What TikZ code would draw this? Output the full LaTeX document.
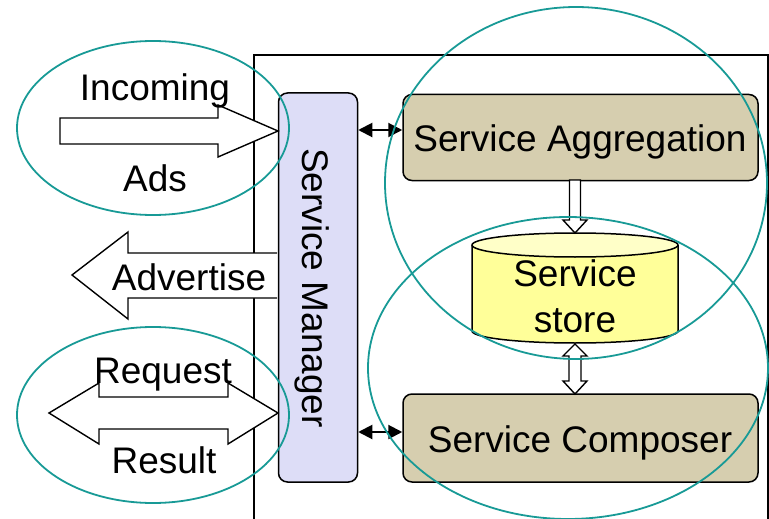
\documentclass[tikz,border=0pt]{standalone}
\usepackage{fontspec}
\setmainfont{Liberation Sans}
\usetikzlibrary{arrows.meta,calc}
\definecolor{mgrfill}{RGB}{221,221,247}
\definecolor{boxfill}{RGB}{214,206,175}
\definecolor{storebody}{RGB}{255,255,153}
\definecolor{storetop}{RGB}{255,255,200}
\definecolor{ring}{RGB}{24,154,150}
\tikzset{
  label/.style={font=\fontsize{37}{40}\selectfont, inner sep=0pt,
    text height=26.5pt, text depth=0pt},
  rbox/.style={draw, line width=1.5pt, rounded corners=9pt, fill=boxfill},
  blockarrow/.style={draw, line width=1.4pt, fill=white, line join=miter},
  group/.style={draw=ring, line width=1.8pt},
  link/.style={line width=2pt, {Triangle[length=14pt,width=14pt]}-{Triangle[length=14pt,width=14pt]}},
}
\begin{document}
\begin{tikzpicture}[x=1pt,y=-1pt]
\useasboundingbox (0,0) rectangle (769,519);

% system frame
\draw[line width=1.5pt] (254,519) -- (254,55) -- (768,55) -- (768,519);

% service manager
\node[draw, line width=1.5pt, rounded corners=9pt, fill=mgrfill,
  minimum width=79pt, minimum height=389pt, inner sep=0pt]
  (mgr) at (318,287.5) {};
\node[label, rotate=-90] (mgrtext) at (316,288) {Service Manager};

% aggregation and composer
\node[rbox, minimum width=355pt, minimum height=86pt] (agg) at (580.5,137.5) {};
\node[label] (aggtext) at (580,138.5) {Service Aggregation};
\node[rbox, minimum width=355pt, minimum height=88pt] (comp) at (580.5,438) {};
\node[label] (comptext) at (580,439.5) {Service Composer};

% service store cylinder
\coordinate (storetopc) at (575,245);
\fill[storebody] (472,245) -- (472,331) arc[start angle=180,end angle=360,x radius=103pt,y radius=12pt] -- (678,245) -- cycle;
\draw[line width=1.5pt] (472,245) -- (472,331) arc[start angle=180,end angle=360,x radius=103pt,y radius=12pt] -- (678,245);
\draw[line width=1.5pt, fill=storetop] (storetopc) ellipse[x radius=103pt, y radius=12pt];
\node[label] (storea) at (575,273.5) {Service};
\node[label] (storeb) at (575,319) {store};

% aggregation -> store
\draw[blockarrow] (569.5,180) -- (580.5,180) -- (580.5,220) -- (587,220) -- (575,233) -- (563,220) -- (569.5,220) -- cycle;
% store <-> composer
\draw[blockarrow] (575,344) -- (587,356) -- (581,356) -- (581,381) -- (587,381) -- (575,394)
  -- (563,381) -- (569,381) -- (569,356) -- (563,356) -- cycle;

% manager links
\draw[link] (mgr.east |- 0,130) -- (agg.west |- 0,130);
\draw[link] (mgr.east |- 0,432) -- (comp.west |- 0,432);

% incoming ads
\draw[blockarrow] (60,118) -- (218,118) -- (218,105) -- (278,131) -- (218,157) -- (218,144) -- (60,144) -- cycle;
\node[label] (incoming) at (155,87) {Incoming};
\node[label] (ads) at (155,178) {Ads};

% advertise
\draw[blockarrow] (277,253) -- (128,253) -- (128,232) -- (72,275) -- (128,319) -- (128,298) -- (277,298);
\node[label] (advertise) at (189,277) {Advertise};

% request / result
\draw[blockarrow] (49,413) -- (99,383) -- (99,397) -- (228,397) -- (228,383) -- (278,413)
  -- (228,444) -- (228,429) -- (99,429) -- (99,444) -- cycle;
\node[label] (request) at (163,370) {Request};
\node[label] (result) at (164,460) {Result};

% grouping rings
\draw[group] (153,128) ellipse[x radius=136pt, y radius=87pt];
\draw[group] (153,415) ellipse[x radius=136pt, y radius=88pt];
\draw[group] (576,183) ellipse[x radius=191pt, y radius=176pt];
\draw[group] (568,368) ellipse[x radius=200pt, y radius=151pt];
\end{tikzpicture}
\end{document}
